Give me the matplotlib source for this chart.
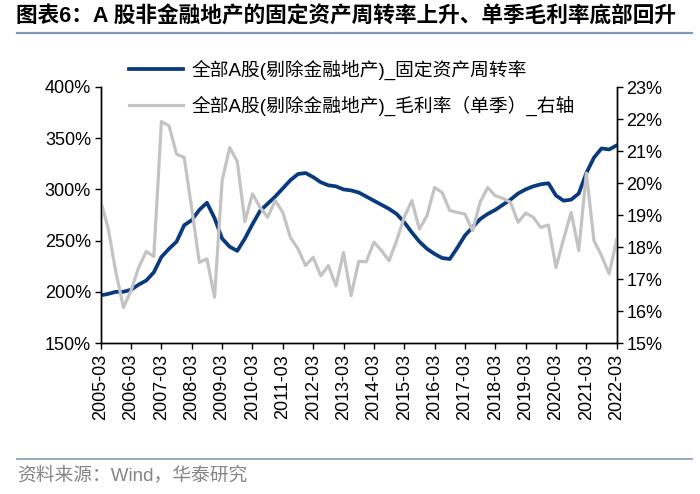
import numpy as np
import pandas as pd
import matplotlib
matplotlib.use("Agg")
import matplotlib.pyplot as plt
from matplotlib.lines import Line2D

plt.rcParams["font.family"] = ["Liberation Sans", "Noto Sans CJK SC", "DejaVu Sans"]

# ---- data (quarterly, 2005-03 .. 2022-03) ----
QUARTERS = pd.period_range("2005Q1", "2022Q1", freq="Q").strftime("%Y-%m").tolist()

# 固定资产周转率 (%), left axis
TURNOVER = [196.5, 198, 200, 200, 202, 207, 211, 219, 234, 242, 249, 265,
            270, 280, 287, 272, 252, 244, 240, 252, 266, 279, 286, 293,
            301, 309, 315, 316, 312, 307, 304, 303, 300, 299, 297, 293,
            289, 285, 281, 276, 268, 258, 249, 242, 237, 233, 232, 243,
            255, 263, 271, 276, 280, 285, 290, 296, 300, 303, 305, 306,
            294, 289, 290, 296, 316, 331, 340, 339, 343]

# 毛利率 (单季, %), right axis
MARGIN = [19.45, 18.56, 17.21, 16.11, 16.64, 17.36, 17.86, 17.70, 21.92, 21.79, 20.90, 20.80,
          19.20, 17.52, 17.63, 16.43, 20.07, 21.11, 20.67, 18.79, 19.66, 19.24, 18.93, 19.45,
          19.08, 18.30, 17.94, 17.42, 17.68, 17.10, 17.42, 16.79, 17.83, 16.48, 17.55, 17.54,
          18.15, 17.89, 17.57, 18.20, 18.93, 19.45, 18.56, 18.98, 19.86, 19.70, 19.14, 19.08,
          19.03, 18.51, 19.40, 19.86, 19.60, 19.52, 19.40, 18.77, 19.06, 18.93, 18.61, 18.69,
          17.36, 18.25, 19.08, 17.89, 20.31, 18.20, 17.73, 17.16, 18.23]

LABEL_TURNOVER = "全部A股(剔除金融地产)_固定资产周转率"
LABEL_MARGIN = "全部A股(剔除金融地产)_毛利率（单季）_右轴"
TITLE = "图表6：A 股非金融地产的固定资产周转率上升、单季毛利率底部回升"
SOURCE = "资料来源：Wind，华泰研究"

assert len(TURNOVER) == len(QUARTERS) == len(MARGIN)

BLUE = "#0a3a7e"
GREY = "#c3c3c3"

fig = plt.figure(figsize=(7.0, 4.94), dpi=100)
ax = fig.add_axes([100.7 / 700, 1 - 343 / 494, 516 / 700, 256 / 494])
ax2 = ax.twinx()

x = np.arange(len(QUARTERS))
ax.plot(x, TURNOVER, color=BLUE, lw=2.7, solid_joinstyle="round", zorder=3)
ax2.plot(x, MARGIN, color=GREY, lw=2.3, solid_joinstyle="round")

ax.set_xlim(0, len(QUARTERS) - 1)
ax.set_ylim(150, 400)
ax.set_yticks(np.arange(150, 401, 50))
ax.set_yticklabels([f"{v}%" for v in range(150, 401, 50)])
ax2.set_ylim(15, 23)
ax2.set_yticks(np.arange(15, 24, 1))
ax2.set_yticklabels([f"{v}%" for v in range(15, 24)])

xt = x[::4]
ax.set_xticks(xt)
ax.set_xticklabels([QUARTERS[i] for i in xt], rotation=90)

for a in (ax, ax2):
    a.spines["top"].set_visible(False)
    for s in ("left", "right", "bottom"):
        a.spines[s].set_linewidth(1.0)
        a.spines[s].set_color("black")
    a.tick_params(direction="out", length=4, width=1.0, labelsize=13, pad=3)
ax.tick_params(axis="x", pad=4)

handles = [Line2D([], [], color=BLUE, lw=2.7), Line2D([], [], color=GREY, lw=2.3)]
fig.legend(handles, [LABEL_TURNOVER, LABEL_MARGIN], loc="upper left",
           bbox_to_anchor=(112 / 700, 1 - 43 / 494), frameon=False,
           fontsize=13.5, handlelength=2.9, handletextpad=0.45, labelspacing=0.8)

# title, separator lines and source note
fig.text(16 / 700, 1 - 17 / 494, TITLE, fontsize=15.6, fontweight="bold",
         va="center", ha="left", color="black")
fig.add_artist(Line2D([17 / 700, 692 / 700], [1 - 33 / 494, 1 - 33 / 494],
                      color="#7f97b8", lw=1.6))
fig.add_artist(Line2D([17 / 700, 692 / 700], [1 - 459 / 494, 1 - 459 / 494],
                      color="#8ea3bf", lw=1.3))
fig.text(17 / 700, 1 - 475 / 494, SOURCE, fontsize=13.5, va="center", ha="left",
         color="#858585")

fig.savefig("out.png", dpi=100)
